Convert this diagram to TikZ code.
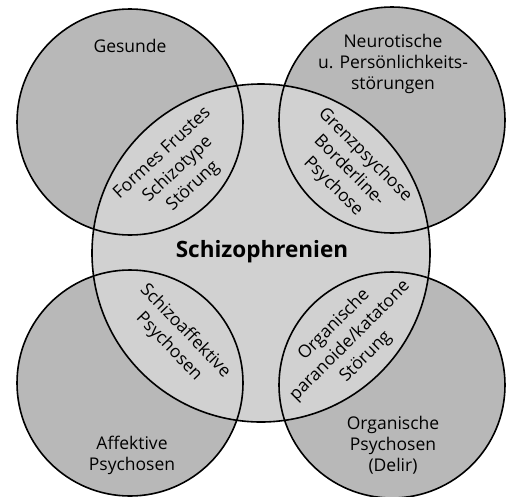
\documentclass[tikz,border=0pt]{standalone}
\usepackage{fontspec}
\setmainfont{Open Sans}
\usetikzlibrary{positioning}

\definecolor{outergray}{gray}{0.72}
\definecolor{innergray}{gray}{0.82}

\begin{document}
\begin{tikzpicture}[
  x=1pt, y=-1pt,
  blob/.style={circle, inner sep=0pt, minimum size=226pt},
  core/.style={circle, inner sep=0pt, minimum size=338pt},
  label/.style={align=center, inner sep=1pt, font=\fontsize{17.5}{21}\selectfont},
  lens/.style={label, font=\fontsize{17.5}{22.5}\selectfont},
  rim/.style={line width=1.6pt}
]
\useasboundingbox (0,0) rectangle (506,496);

% the four outer groups
\node[blob, fill=outergray] (gesund) at (130,122) {};
\node[blob, fill=outergray] (neurot) at (392,120) {};
\node[blob, fill=outergray] (affekt) at (130,383) {};
\node[blob, fill=outergray] (organ) at (392,385) {};
% schizophrenia in the middle
\node[core, fill=innergray] (schizo) at (261,253) {};

% outlines on top
\foreach \n in {gesund,neurot,affekt,organ}
  \draw[rim] (\n.center) circle[radius=113pt];
\draw[rim] (schizo.center) circle[radius=169pt];

\node[label] (tGesund) at (130,46) {Gesunde};
\node[label] (tNeurot) at (393,64) {Neurotische\\u. Persönlichkeits-\\störungen};
\node[label] (tAffekt) at (132,455) {Affektive\\Psychosen};
\node[label] (tOrgan) at (393,445) {Organische\\Psychosen\\(Delir)};
\node[font=\bfseries\fontsize{22.5}{26}\selectfont] (tSchizo) at (262,252) {Schizophrenien};

% overlaps
\node[lens, rotate=43] (tFormes) at (178,170) {Formes Frustes\\Schizotype\\Störung};
\node[lens, rotate=-45] (tGrenz) at (349,171) {Grenzpsychose\\Borderline-\\Psychose};
\node[lens, rotate=-46] (tSchizoaff) at (177,339) {Schizoaffektive\\Psychosen};
\node[lens, rotate=45] (tParanoid) at (350,341) {Organische\\paranoide/katatone\\Störung};

\end{tikzpicture}
\end{document}
